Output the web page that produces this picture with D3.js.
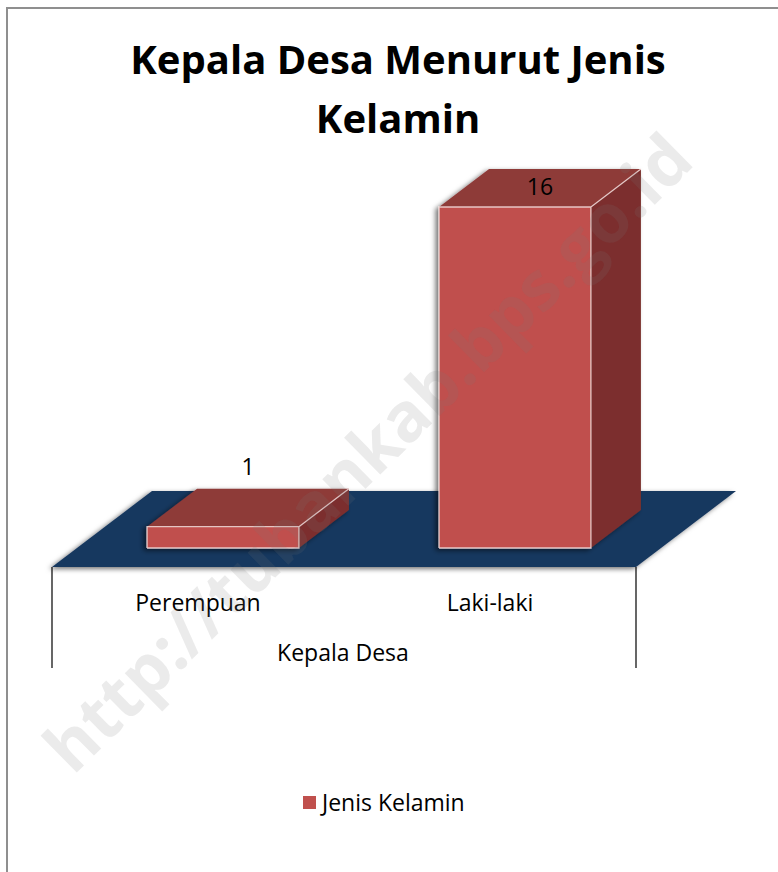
<!DOCTYPE html>
<html>
<head>
<meta charset="utf-8">
<script src="https://cdn.jsdelivr.net/npm/d3@7"></script>
<style>
  body { margin: 0; background: #fff; }
  svg { display: block; font-family: "Open Sans", "Noto Sans", sans-serif; }
</style>
</head>
<body>
<div id="chart"></div>
<script>
// Datos del gráfico
const kategori = ["Perempuan", "Laki-laki"];
const nilai = [1, 16];
const judul = ["Kepala Desa Menurut Jenis", "Kelamin"];
const judulSumbu = "Kepala Desa";
const namaSeri = "Jenis Kelamin";
const watermark = "http://tubankab.bps.go.id";

const width = 778, height = 872;

const svg = d3.select("#chart")
    .append("svg")
    .attr("width", width)
    .attr("height", height);

const defs = svg.append("defs");
const shadow = defs.append("filter").attr("id", "bayangan")
    .attr("x", "-20%").attr("y", "-20%").attr("width", "140%").attr("height", "140%");
shadow.append("feDropShadow")
    .attr("dx", -3).attr("dy", 2).attr("stdDeviation", 2.5)
    .attr("flood-color", "#000").attr("flood-opacity", 0.55);

// Marco exterior (solo arriba e izquierda visibles)
svg.append("path")
    .attr("d", "M7,872 V8 H778")
    .attr("fill", "none")
    .attr("stroke", "#8f8f8f")
    .attr("stroke-width", 2);

// Título
svg.append("text")
    .attr("text-anchor", "middle")
    .attr("font-weight", "bold")
    .attr("font-size", 40)
    .selectAll("tspan")
    .data(judul)
    .enter()
    .append("tspan")
    .attr("x", 398)
    .attr("y", (d, i) => 74 + i * 59)
    .text(d => d);

// Proyección 3D simple
const lantaiY = 567;          // borde frontal del suelo
const DX = 100, DY = -76;     // profundidad total del suelo
const depan = 0.25, belakang = 0.75;

const x = d3.scaleBand()
    .domain(kategori)
    .range([52, 636])
    .paddingInner(0.48)
    .paddingOuter(0.24);

const tinggi = d3.scaleLinear()
    .domain([0, 16])
    .range([0, 341]);

// Suelo
const lantai = [[52, lantaiY], [636, lantaiY], [636 + DX, lantaiY + DY], [52 + DX, lantaiY + DY]];
svg.append("polygon")
    .attr("points", lantai.map(p => p.join(",")).join(" "))
    .attr("fill", "#17375e")
    .attr("filter", "url(#bayangan)");

// Eje: líneas verticales bajo el suelo
svg.append("g")
    .selectAll("line")
    .data([52, 636])
    .enter()
    .append("line")
    .attr("x1", d => d).attr("x2", d => d)
    .attr("y1", lantaiY).attr("y2", 668)
    .attr("stroke", "#000")
    .attr("stroke-width", 1.2);

// Barras
const bw = x.bandwidth();
const bd = (belakang - depan);
const bars = kategori.map((k, i) => {
    const x0 = x(k) + depan * DX;
    const yb = lantaiY + depan * DY;
    const yt = yb - tinggi(nilai[i]);
    return { k, v: nilai[i], x0, x1: x0 + bw, yb, yt };
});

const g = svg.append("g");
bars.forEach(b => {
    const ox = bd * DX, oy = bd * DY;
    const gb = g.append("g").attr("filter", "url(#bayangan)");
    // cara superior
    gb.append("polygon")
        .attr("points", [[b.x0, b.yt], [b.x1, b.yt], [b.x1 + ox, b.yt + oy], [b.x0 + ox, b.yt + oy]].map(p => p.join(",")).join(" "))
        .attr("fill", "#8e3a38");
    // cara lateral
    gb.append("polygon")
        .attr("points", [[b.x1, b.yt], [b.x1 + ox, b.yt + oy], [b.x1 + ox, b.yb + oy], [b.x1, b.yb]].map(p => p.join(",")).join(" "))
        .attr("fill", "#7b2f2e");
    // cara frontal
    gb.append("rect")
        .attr("x", b.x0).attr("y", b.yt)
        .attr("width", bw).attr("height", b.yb - b.yt)
        .attr("fill", "#c0504d");
    // bordes claros
    gb.append("path")
        .attr("d", `M${b.x0},${b.yb} V${b.yt} H${b.x1} V${b.yb} H${b.x0} M${b.x1},${b.yt} L${b.x1 + ox},${b.yt + oy}`)
        .attr("fill", "none")
        .attr("stroke", "#f2dcdb")
        .attr("stroke-width", 1.3)
        .attr("stroke-opacity", 0.85);
});

// Etiquetas de datos
svg.append("g")
    .attr("font-size", 23)
    .attr("text-anchor", "middle")
    .selectAll("text")
    .data(bars)
    .enter()
    .append("text")
    .attr("x", d => d.x0 + bw / 2 + bd * DX / 2)
    .attr("y", d => Math.max(d.yt + bd * DY / 2 - 33, 195))
    .text(d => d.v);

// Etiquetas de categoría
svg.append("g")
    .attr("font-size", 23)
    .attr("text-anchor", "middle")
    .selectAll("text")
    .data(kategori)
    .enter()
    .append("text")
    .attr("x", d => x(d) + bw / 2)
    .attr("y", 611)
    .text(d => d);

svg.append("text")
    .attr("x", 343)
    .attr("y", 661)
    .attr("font-size", 23)
    .attr("text-anchor", "middle")
    .text(judulSumbu);

// Leyenda
svg.append("rect")
    .attr("x", 303).attr("y", 796)
    .attr("width", 13).attr("height", 13)
    .attr("fill", "#c0504d");
svg.append("text")
    .attr("x", 322).attr("y", 811)
    .attr("font-size", 23)
    .text(namaSeri);

// Marca de agua
svg.append("text")
    .attr("transform", "translate(372,457) rotate(-44.5)")
    .attr("text-anchor", "middle")
    .attr("dominant-baseline", "middle")
    .attr("font-size", 68)
    .attr("font-weight", "bold")
    .attr("fill", "#777")
    .attr("fill-opacity", 0.15)
    .text(watermark);
</script>
</body>
</html>
